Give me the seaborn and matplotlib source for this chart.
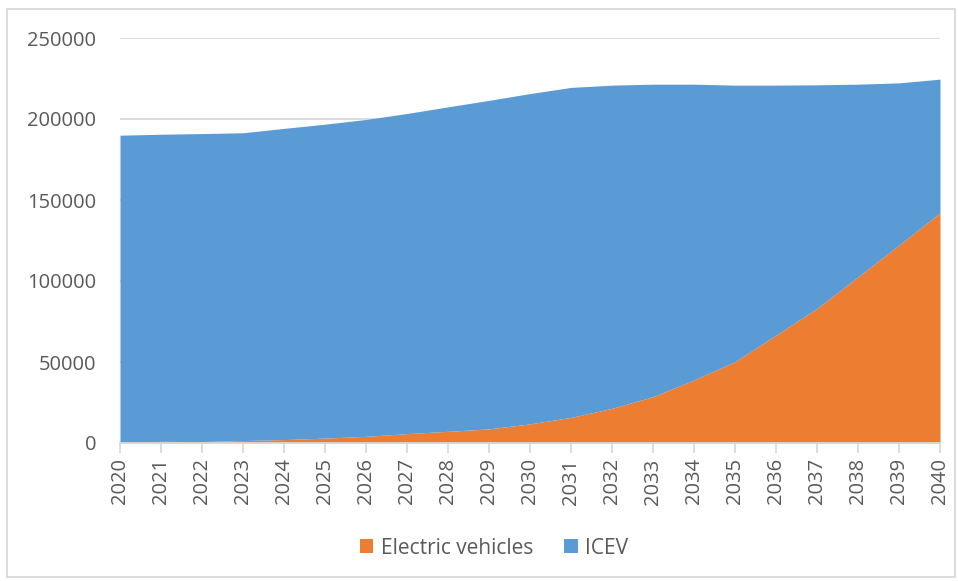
import matplotlib
matplotlib.use("Agg")
import matplotlib.pyplot as plt
from matplotlib.patches import Patch, Rectangle
import numpy as np
import pandas as pd
import seaborn as sns

# Vehicle fleet projection, 2020-2040
years = list(range(2020, 2041))
electric = [300, 1000, 900, 1500, 2100, 3000, 4100, 5800, 7200, 8700, 11800,
            15800, 21400, 28600, 38900, 50200, 66600, 83100, 102600, 122200, 142100]
total = [190000, 190600, 191000, 191500, 194200, 196800, 199700, 203400, 207500, 211500, 215700,
         219500, 220900, 221500, 221500, 220900, 220900, 221100, 221500, 222300, 224600]
icev = [t - e for t, e in zip(total, electric)]

series_names = ["Electric vehicles", "ICEV"]
colors = ["#ED7D31", "#5B9BD5"]
y_ticks = [0, 50000, 100000, 150000, 200000, 250000]

df = pd.DataFrame({"year": years, "Electric vehicles": electric, "ICEV": icev})

sns.set_theme(style="white")
plt.rcParams["font.family"] = ["Open Sans", "DejaVu Sans"]
text_color = "#595959"
grid_color = "#D9D9D9"

fig = plt.figure(figsize=(9.58, 5.81), dpi=100)
ax = fig.add_axes([120 / 958, 1 - 443 / 581, 820 / 958, 405 / 581])

# stacked areas
base = np.zeros(len(df))
for name, col in zip(series_names, colors):
    top = base + df[name].to_numpy()
    ax.fill_between(df["year"], base, top, color=col, linewidth=0, zorder=2)
    base = top

ax.set_xlim(years[0], years[-1])
ax.set_ylim(0, 250000)
ax.set_yticks(y_ticks)
ax.set_yticklabels([str(v) for v in y_ticks])
ax.set_xticks(years)
ax.set_xticklabels([str(y) for y in years], rotation=90)

ax.yaxis.grid(True, color=grid_color, linewidth=1.3, zorder=0)
ax.set_axisbelow(True)
for side in ["left", "right", "top"]:
    ax.spines[side].set_visible(False)
ax.spines["bottom"].set_color(grid_color)
ax.spines["bottom"].set_linewidth(1.3)
ax.spines["bottom"].set_zorder(3)

ax.tick_params(axis="x", which="major", bottom=True, length=7, width=1.3,
               color=grid_color, labelsize=14.5, labelcolor=text_color, pad=4)
ax.tick_params(axis="y", left=False, labelsize=14.5, labelcolor=text_color, pad=11)
ax.set_xlabel("")
ax.set_ylabel("")

handles = [Patch(facecolor=c, edgecolor="none") for c in colors]
fig.legend(handles, series_names, loc="center", bbox_to_anchor=(494 / 958, 1 - 548 / 581),
           ncol=2, frameon=False, fontsize=15, labelcolor=text_color,
           handlelength=0.65, handleheight=0.65, handletextpad=0.35, columnspacing=1.5)

# chart border
fig.patches.append(Rectangle((7 / 958, 4 / 581), 948 / 958, 568 / 581,
                             transform=fig.transFigure, fill=False,
                             edgecolor=grid_color, linewidth=1.3))

fig.savefig("out.png", dpi=100)
